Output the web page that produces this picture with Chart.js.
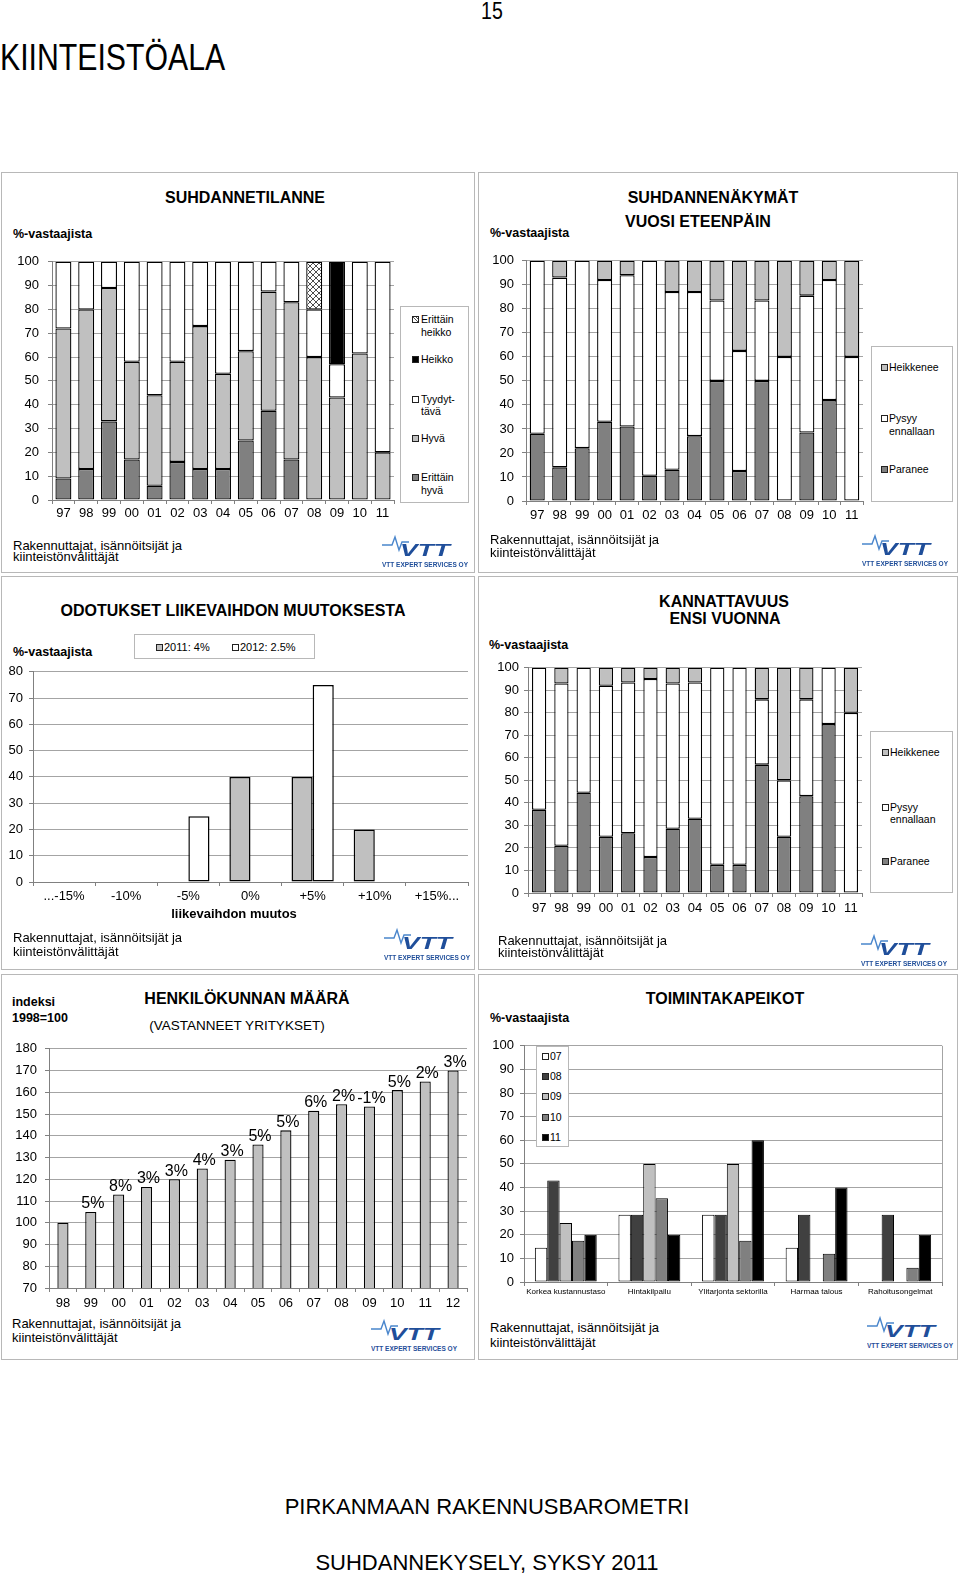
<!DOCTYPE html>
<html>
<head>
<meta charset="utf-8">
<script src="https://cdn.jsdelivr.net/npm/chart.js@4.4.0/dist/chart.umd.min.js"></script>
<style>
  body { margin: 0; background: #fff; width: 960px; height: 1575px; position: relative; overflow: hidden;
         font-family: "Liberation Sans", Arial, sans-serif; color: #000; }
  .t { position: absolute; white-space: nowrap; line-height: 1; }
  .panel { position: absolute; border: 1.5px solid #b8b8b8; box-sizing: border-box; }
  .lgbox { position: absolute; border: 1px solid #b8b8b8; background: #fff; box-sizing: border-box; }
  .sq { position: absolute; width: 7px; height: 7px; border: 1px solid #222; box-sizing: border-box; }
</style>
</head>
<body>
<script>
// --- data ---
const vuodet = ['97','98','99','00','01','02','03','04','05','06','07','08','09','10','11'];

// Suhdannetilanne
const tilanneErittainHyva   = [9, 13, 33, 17, 6, 16, 13, 13, 25, 37.5, 17, 0, 0, 0, 0];
const tilanneHyva           = [63, 67, 56, 41, 38, 42, 60, 40, 37.5, 50, 66, 60, 43, 61.5, 20];
const tilanneTyydyttava     = [28, 20, 11, 42, 56, 42, 27, 47, 37.5, 12.5, 17, 20, 14, 38.5, 80];
const tilanneHeikko         = [0, 0, 0, 0, 0, 0, 0, 0, 0, 0, 0, 0, 43, 0, 0];
const tilanneErittainHeikko = [0, 0, 0, 0, 0, 0, 0, 0, 0, 0, 0, 20, 0, 0, 0];

// Suhdannenäkymät vuosi eteenpäin
const nakymaParanee   = [28, 14, 22, 33, 31, 10.5, 13, 27, 50, 12.5, 50, 0, 28.5, 42, 0];
const nakymaPysyy     = [72, 79, 78, 59, 63, 89.5, 74, 60, 33.5, 50, 33.5, 60, 57, 50, 60];
const nakymaHeikkenee = [0, 7, 0, 8, 6, 0, 13, 13, 16.5, 37.5, 16.5, 40, 14.5, 8, 40];

// Odotukset liikevaihdon muutoksesta
const muutosLuokat = ['...-15%', '-10%', '-5%', '0%', '+5%', '+10%', '+15%...'];
const odotus2011 = [0, 0, 0, 40, 40, 20, 0];
const odotus2012 = [0, 0, 25, 0, 75, 0, 0];

// Kannattavuus ensi vuonna
const kannParanee   = [37, 21, 44.5, 25, 26.5, 16, 28.5, 33, 12.5, 12.5, 57, 25, 43, 75, 0];
const kannPysyy     = [63, 72, 55.5, 67, 67, 79, 64.5, 60.5, 87.5, 87.5, 29, 25, 43, 25, 80];
const kannHeikkenee = [0, 7, 0, 8, 6.5, 5, 7, 6.5, 0, 0, 14, 50, 14, 0, 20];

// Henkilökunnan määrä
const henkiloVuodet  = ['98','99','00','01','02','03','04','05','06','07','08','09','10','11','12'];
const henkiloIndeksi = [100, 105, 113, 116.5, 120, 125, 129, 136, 142.5, 151.5, 154.5, 153.5, 161, 165, 170];
const henkiloMuutos  = ['', '5%', '8%', '3%', '3%', '4%', '3%', '5%', '5%', '6%', '2%', '-1%', '5%', '2%', '3%'];

// Toimintakapeikot
const kapeikot = ['Korkea kustannustaso', 'Hintakilpailu', 'Ylitarjonta sektorilla', 'Harmaa talous', 'Rahoitusongelmat'];
const kapeikko07 = [14.5, 28.5, 28.5, 14.5, 0];
const kapeikko08 = [43, 28.5, 28.5, 28.5, 28.5];
const kapeikko09 = [25, 50, 50, 0, 0];
const kapeikko10 = [17.5, 35.5, 17.5, 12, 6];
const kapeikko11 = [20, 20, 60, 40, 20];

// --- styles ---
const FONT = '"Liberation Sans", Arial, sans-serif';
const GRID = '#a4a4a4';
const AXIS = '#808080';
const TUMMA = '#808080';
const VAALEA = '#c0c0c0';

Chart.defaults.font.family = FONT;
Chart.defaults.color = '#000';
Chart.defaults.animation = false;

// apuri tekstille: y = keskikohta
function txt(x, y, s, css, align) {
    const d = document.createElement('div');
    d.className = 't';
    d.textContent = s;
    d.style.cssText = css || '';
    d.style.left = x + 'px';
    d.style.top = y + 'px';
    const tx = align === 'c' ? '-50%' : align === 'r' ? '-100%' : '0';
    d.style.transform = 'translate(' + tx + ',-50%)';
    document.body.appendChild(d);
    return d;
}

function box(cls, l, t, r, b) {
    const d = document.createElement('div');
    d.className = cls;
    d.style.left = l + 'px'; d.style.top = t + 'px';
    d.style.width = (r - l) + 'px'; d.style.height = (b - t) + 'px';
    document.body.appendChild(d);
    return d;
}

function sq(x, y, fill, extra) {
    const d = document.createElement('div');
    d.className = 'sq';
    d.style.left = x + 'px'; d.style.top = (y - 3.5) + 'px';
    d.style.background = fill;
    if (extra) d.style.cssText += extra;
    document.body.appendChild(d);
}

function logo(x, y) {
    const ns = 'http://www.w3.org/2000/svg';
    const s = document.createElementNS(ns, 'svg');
    s.setAttribute('width', 90); s.setAttribute('height', 36);
    s.style.cssText = 'position:absolute;left:' + x + 'px;top:' + y + 'px';
    s.innerHTML =
        '<polyline points="0,11 10,11 13,3 17,16 20,8 27,8" fill="none" stroke="#4a86cc" stroke-width="1.4"/>' +
        '<text x="18" y="22" font-family="Liberation Sans, Arial" font-size="17" font-weight="bold" font-style="italic" fill="#1f4e9a" textLength="50" lengthAdjust="spacingAndGlyphs">VTT</text>' +
        '<text x="0" y="32.5" font-family="Liberation Sans, Arial" font-size="6.5" font-weight="bold" fill="#1f4e9a" textLength="86" lengthAdjust="spacingAndGlyphs">VTT EXPERT SERVICES OY</text>';
    document.body.appendChild(s);
}

function makeChart(plot, yW, xH, config) {
    const left = plot.l - yW, top = plot.t - 12;
    const w = plot.r + 10 - left, h = plot.b + xH - top;
    const wrap = document.createElement('div');
    wrap.style.cssText = 'position:absolute;left:' + left + 'px;top:' + top + 'px;width:' + w + 'px;height:' + h + 'px';
    const c = document.createElement('canvas');
    wrap.appendChild(c);
    document.body.appendChild(wrap);
    config.options.responsive = true;
    config.options.maintainAspectRatio = false;
    config.options.layout = { padding: { left: 0, top: 12, right: 10, bottom: 0 } };
    config.options.plugins = Object.assign({ legend: { display: false }, tooltip: { enabled: false } }, config.options.plugins || {});
    return new Chart(c, config);
}

function axes(o) {
    return {
        x: {
            stacked: !!o.stacked,
            grid: { display: true, drawOnChartArea: false, drawTicks: true, tickLength: 4, offset: true, color: AXIS },
            border: { display: true, color: AXIS, width: 1 },
            ticks: { padding: o.xPad, font: { size: o.xFont || 13 }, color: '#000', maxRotation: 0, autoSkip: false },
            afterFit: s => { s.height = o.xH; }
        },
        y: {
            stacked: !!o.stacked,
            min: o.min, max: o.max,
            grid: { color: GRID, drawTicks: true, tickLength: 4, tickColor: AXIS },
            border: { color: AXIS, width: 1 },
            ticks: { stepSize: o.step, padding: o.yPad, font: { size: 13 }, color: '#000' },
            afterFit: s => { s.width = o.yW; }
        }
    };
}

function bar(label, data, color, extra) {
    return Object.assign({ label, data, backgroundColor: color, borderColor: '#000', borderWidth: 1.3, borderSkipped: false }, extra || {});
}

function hatch() {
    const p = document.createElement('canvas');
    p.width = 6; p.height = 6;
    const g = p.getContext('2d');
    g.fillStyle = '#fff'; g.fillRect(0, 0, 6, 6);
    g.strokeStyle = '#000'; g.lineWidth = 0.7;
    g.beginPath(); g.moveTo(0, 0); g.lineTo(6, 6); g.moveTo(6, 0); g.lineTo(0, 6); g.stroke();
    return g.createPattern(p, 'repeat');
}

// --- sivun otsikot ---
txt(492, 11, '15', 'font-size:23px', 'c').style.transform = 'translate(-50%,-50%) scaleX(0.85)';
const paaOtsikko = txt(0, 58, 'KIINTEISTÖALA', 'font-size:36px;transform-origin:0 50%', 'l');
paaOtsikko.style.transform = 'translate(0,-50%) scaleX(0.84)';
txt(487, 1507, 'PIRKANMAAN RAKENNUSBAROMETRI', 'font-size:22px', 'c');
txt(487, 1563, 'SUHDANNEKYSELY, SYKSY 2011', 'font-size:22px', 'c');

// --- paneelit ---
box('panel', 1, 172, 475, 573);
box('panel', 478, 172, 958, 573);
box('panel', 1, 576, 475, 970);
box('panel', 478, 576, 958, 970);
box('panel', 1, 974, 475, 1360);
box('panel', 478, 974, 958, 1360);

const TITLE = 'font-weight:bold;font-size:16px';
const YLAB = 'font-weight:bold;font-size:12.5px';
const FOOT = 'font-size:13px';
const LEG = 'font-size:10.5px';

function foot(x, y1, y2) {
    txt(x, y1, 'Rakennuttajat, isännöitsijät ja', FOOT, 'l');
    txt(x, y2, 'kiinteistönvälittäjät', FOOT, 'l');
}

// 1. SUHDANNETILANNE
txt(245, 198, 'SUHDANNETILANNE', TITLE, 'c');
txt(13, 234, '%-vastaajista', YLAB, 'l');
makeChart({ l: 52, t: 257, r: 394, b: 500 }, 45, 26, {
    type: 'bar',
    data: {
        labels: vuodet,
        datasets: [
            bar('Erittäin hyvä', tilanneErittainHyva, TUMMA),
            bar('Hyvä', tilanneHyva, VAALEA),
            bar('Tyydyttävä', tilanneTyydyttava, '#fff'),
            bar('Heikko', tilanneHeikko, '#000'),
            bar('Erittäin heikko', tilanneErittainHeikko, hatch())
        ].map(d => Object.assign(d, { categoryPercentage: 1, barPercentage: 0.7 }))
    },
    options: { scales: axes({ stacked: true, min: 0, max: 100, step: 10, xH: 26, yW: 45, xPad: 2, yPad: 9 }) }
});
box('lgbox', 400, 306, 469, 503);
sq(412, 319, '#fff', 'background:repeating-linear-gradient(45deg,#fff 0 1.5px,#555 1.5px 2px)');
txt(421, 319, 'Erittäin', LEG, 'l'); txt(421, 332, 'heikko', LEG, 'l');
sq(412, 359, '#000'); txt(421, 359, 'Heikko', LEG, 'l');
sq(412, 399, '#fff'); txt(421, 399, 'Tyydyt-', LEG, 'l'); txt(421, 411, 'tävä', LEG, 'l');
sq(412, 438, VAALEA); txt(421, 438, 'Hyvä', LEG, 'l');
sq(412, 477, TUMMA); txt(421, 477, 'Erittäin', LEG, 'l'); txt(421, 490, 'hyvä', LEG, 'l');
foot(13, 545, 556);
logo(382, 534);

// 2. SUHDANNENÄKYMÄT
txt(713, 198, 'SUHDANNENÄKYMÄT', TITLE, 'c');
txt(698, 222, 'VUOSI ETEENPÄIN', TITLE, 'c');
txt(490, 233, '%-vastaajista', YLAB, 'l');
makeChart({ l: 526, t: 257, r: 863, b: 501 }, 45, 26, {
    type: 'bar',
    data: {
        labels: vuodet,
        datasets: [
            bar('Paranee', nakymaParanee, TUMMA),
            bar('Pysyy ennallaan', nakymaPysyy, '#fff'),
            bar('Heikkenee', nakymaHeikkenee, VAALEA)
        ].map(d => Object.assign(d, { categoryPercentage: 1, barPercentage: 0.67 }))
    },
    options: { scales: axes({ stacked: true, min: 0, max: 100, step: 10, xH: 26, yW: 45, xPad: 3, yPad: 8 }) }
});
box('lgbox', 871, 346, 953, 502);
sq(881, 367, VAALEA); txt(889, 367, 'Heikkenee', LEG, 'l');
sq(881, 418, '#fff'); txt(889, 418, 'Pysyy', LEG, 'l'); txt(889, 431, 'ennallaan', LEG, 'l');
sq(881, 469, TUMMA); txt(889, 469, 'Paranee', LEG, 'l');
foot(490, 539, 552);
logo(862, 533);

// 3. ODOTUKSET LIIKEVAIHDON MUUTOKSESTA
txt(233, 611, 'ODOTUKSET LIIKEVAIHDON MUUTOKSESTA', TITLE, 'c');
txt(13, 652, '%-vastaajista', YLAB, 'l');
box('lgbox', 134, 634, 315, 659);
sq(156, 647, VAALEA); txt(164, 647, '2011: 4%', 'font-size:11px', 'l');
sq(232, 647, '#fff'); txt(240, 647, '2012: 2.5%', 'font-size:11px', 'l');
makeChart({ l: 33, t: 670, r: 468, b: 882 }, 30, 26, {
    type: 'bar',
    data: {
        labels: muutosLuokat,
        datasets: [
            bar('2011: 4%', odotus2011, VAALEA, { borderWidth: 1.5 }),
            bar('2012: 2.5%', odotus2012, '#fff', { borderWidth: 1.5 })
        ].map(d => Object.assign(d, { categoryPercentage: 0.68, barPercentage: 1 }))
    },
    options: { scales: axes({ min: 0, max: 80, step: 10, xH: 26, yW: 30, xPad: 3, yPad: 6 }) }
});
txt(234, 913, 'liikevaihdon muutos', 'font-weight:bold;font-size:13px', 'c');
foot(13, 937, 951);
logo(384, 927);

// 4. KANNATTAVUUS ENSI VUONNA
txt(724, 602, 'KANNATTAVUUS', TITLE, 'c');
txt(725, 619, 'ENSI VUONNA', TITLE, 'c');
txt(489, 645, '%-vastaajista', YLAB, 'l');
makeChart({ l: 528, t: 667, r: 862, b: 893 }, 45, 26, {
    type: 'bar',
    data: {
        labels: vuodet,
        datasets: [
            bar('Paranee', kannParanee, TUMMA),
            bar('Pysyy ennallaan', kannPysyy, '#fff'),
            bar('Heikkenee', kannHeikkenee, VAALEA)
        ].map(d => Object.assign(d, { categoryPercentage: 1, barPercentage: 0.64 }))
    },
    options: { scales: axes({ stacked: true, min: 0, max: 100, step: 10, xH: 26, yW: 45, xPad: 4, yPad: 5 }) }
});
box('lgbox', 870, 731, 953, 893);
sq(882, 752, VAALEA); txt(890, 752, 'Heikkenee', LEG, 'l');
sq(882, 807, '#fff'); txt(890, 807, 'Pysyy', LEG, 'l'); txt(890, 819, 'ennallaan', LEG, 'l');
sq(882, 861, TUMMA); txt(890, 861, 'Paranee', LEG, 'l');
foot(498, 940, 952);
logo(861, 933);

// 5. HENKILÖKUNNAN MÄÄRÄ
txt(12, 1002, 'indeksi', YLAB, 'l');
txt(12, 1018, '1998=100', YLAB, 'l');
txt(247, 999, 'HENKILÖKUNNAN MÄÄRÄ', TITLE, 'c');
txt(237, 1026, '(VASTANNEET YRITYKSET)', 'font-size:13.5px', 'c');

const muutosTekstit = {
    id: 'muutosTekstit',
    afterDatasetsDraw(chart) {
        const ctx = chart.ctx;
        const meta = chart.getDatasetMeta(0);
        ctx.save();
        ctx.font = '16px ' + FONT;
        ctx.fillStyle = '#000';
        ctx.textAlign = 'center';
        ctx.textBaseline = 'middle';
        meta.data.forEach((el, i) => {
            if (henkiloMuutos[i]) ctx.fillText(henkiloMuutos[i], el.x + 2, el.y - 8);
        });
        ctx.restore();
    }
};
makeChart({ l: 49, t: 1045, r: 467, b: 1288 }, 44, 26, {
    type: 'bar',
    data: {
        labels: henkiloVuodet,
        datasets: [bar('indeksi', henkiloIndeksi, VAALEA, { categoryPercentage: 0.8, barPercentage: 0.5 })]
    },
    options: { scales: axes({ min: 70, max: 180, step: 10, xH: 26, yW: 44, xPad: 4, yPad: 8 }) },
    plugins: [muutosTekstit]
});
foot(12, 1323, 1337);
logo(371, 1318);

// 6. TOIMINTAKAPEIKOT
txt(725, 999, 'TOIMINTAKAPEIKOT', TITLE, 'c');
txt(490, 1018, '%-vastaajista', YLAB, 'l');
const oikeaReuna = {
    id: 'oikeaReuna',
    afterDraw(chart) {
        const { ctx, chartArea: a } = chart;
        ctx.save();
        ctx.strokeStyle = GRID; ctx.lineWidth = 1;
        ctx.beginPath(); ctx.moveTo(a.right + 0.5, a.top); ctx.lineTo(a.right + 0.5, a.bottom); ctx.stroke();
        ctx.restore();
    }
};
makeChart({ l: 524, t: 1044, r: 942, b: 1282 }, 45, 20, {
    type: 'bar',
    data: {
        labels: kapeikot,
        datasets: [
            bar('07', kapeikko07, '#fff'),
            bar('08', kapeikko08, '#404040'),
            bar('09', kapeikko09, VAALEA),
            bar('10', kapeikko10, TUMMA),
            bar('11', kapeikko11, '#000')
        ].map(d => Object.assign(d, { borderWidth: 1, categoryPercentage: 0.74, barPercentage: 1 }))
    },
    options: { scales: axes({ min: 0, max: 100, step: 10, xH: 20, yW: 45, xPad: 1, xFont: 8, yPad: 6 }) },
    plugins: [oikeaReuna]
});
box('lgbox', 536, 1046, 569, 1147);
const kapLeg = [['07', '#fff'], ['08', '#404040'], ['09', VAALEA], ['10', TUMMA], ['11', '#000']];
const kapY = [1056, 1076, 1096, 1117, 1137];
kapLeg.forEach((k, i) => { sq(542, kapY[i], k[1]); txt(550, kapY[i], k[0], LEG, 'l'); });
foot(490, 1327, 1342);
logo(867, 1315);
</script>
</body>
</html>
